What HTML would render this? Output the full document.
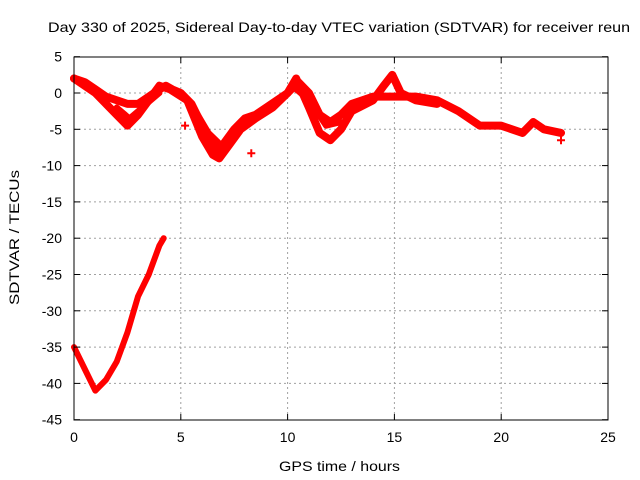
<!DOCTYPE html>
<html><head><meta charset="utf-8"><style>
body{margin:0;background:#fff}
svg{display:block;font-family:"Liberation Sans",sans-serif}
</style></head><body>
<svg id="c" width="640" height="480">
<text x="48" y="32" font-size="14" textLength="582" lengthAdjust="spacingAndGlyphs">Day 330 of 2025, Sidereal Day-to-day VTEC variation (SDTVAR) for receiver reun</text>
<text x="279" y="471" font-size="14" textLength="121" lengthAdjust="spacingAndGlyphs">GPS time / hours</text>
<text transform="translate(19,305) rotate(-90)" font-size="14" textLength="135" lengthAdjust="spacingAndGlyphs">SDTVAR / TECUs</text>
<g id="grid"></g><g id="marks"></g><g id="axes"></g>
</svg>
<script>
const xTicks=[0,5,10,15,20,25];
const yTicks=[5,0,-5,-10,-15,-20,-25,-30,-35,-40,-45];
const trackA=[[0,2],[0.5,1.5],[1,0.5],[1.5,-0.5],[2,-1],[2.5,-1.5],[3,-1.5],[3.5,-0.5],[4,0.5],[4.3,1],[4.6,0.5],[5,0],[5.5,-1.5],[6,-4.5],[6.5,-7],[6.8,-8.5],[7,-7],[7.5,-5],[8,-3.5],[8.5,-3],[9,-2],[9.5,-1],[10,0],[10.5,1.5],[11,0],[11.5,-3],[12,-4],[12.5,-3],[13,-1.5],[14,-0.5],[15,-0.5],[16,-0.5],[17,-1],[18,-2.5],[19,-4.5],[20,-4.5],[21,-5.5],[21.5,-4],[22,-5],[22.8,-5.5]];
const trackB=[[0,2],[1,0],[2,-3],[2.5,-4.5],[3,-3],[3.5,-1],[4,1],[4.5,0.5],[5.3,-1],[6,-6],[6.5,-8.5],[6.8,-9],[7.3,-7],[7.8,-5],[8.5,-3.5],[9.3,-2],[10,0],[10.4,2],[11,-2],[11.5,-5.5],[12,-6.5],[12.5,-5],[13,-2.5],[14,-1],[14.5,1],[14.9,2.5],[15.3,0],[16,-1],[17,-1.5]];
const trackC=[[2,-2],[2.6,-3.5],[3.2,-2],[4,0]];
const trackD=[[5.5,-1.5],[6.3,-5.5],[7,-7.5],[7.5,-6]];
const trackE=[[10.2,1],[11,-1],[11.8,-4.5],[12.5,-4]];
const trackLow=[[0,-35],[0.5,-38],[1,-41],[1.5,-39.5],[2,-37],[2.5,-33],[3,-28],[3.5,-25],[4,-21],[4.2,-20]];
const outliers=[[5.2,-4.5],[8.3,-8.3],[22.8,-6.5]];
const X=v=>74+v*(534/25), Y=v=>93-v*7.26;
const NS='http://www.w3.org/2000/svg';
function mk(t,a,p){const e=document.createElementNS(NS,t);for(const k in a)e.setAttribute(k,a[k]);p.appendChild(e);return e;}
const g=document.getElementById('grid'),m=document.getElementById('marks'),ax=document.getElementById('axes');
xTicks.forEach(t=>{
 if(t>0&&t<25){const l=mk('line',{x1:X(t),x2:X(t),y1:57,y2:420,stroke:'#a0a0a0','stroke-dasharray':'2,3'},g);}
 mk('line',{x1:X(t),x2:X(t),y1:420,y2:414,stroke:'#000'},ax);mk('line',{x1:X(t),x2:X(t),y1:57,y2:63,stroke:'#000'},ax);
 const tx=mk('text',{x:X(t),y:442,'text-anchor':'middle','font-size':'14'},ax);tx.textContent=t;
 
});
yTicks.forEach(t=>{
 if(t<5&&t>-45){const l=mk('line',{x1:74,x2:608,y1:Y(t),y2:Y(t),stroke:'#a0a0a0','stroke-dasharray':'2,3'},g);}
 mk('line',{x1:74,x2:80,y1:Y(t),y2:Y(t),stroke:'#000'},ax);mk('line',{x1:602,x2:608,y1:Y(t),y2:Y(t),stroke:'#000'},ax);
 const tx=mk('text',{x:62,y:Y(t)+5,'text-anchor':'end','font-size':'14'},ax);tx.textContent=t;
 
});
const fr=mk('rect',{x:74,y:57,width:534,height:363,fill:'none',stroke:'#000'},ax);

[[trackA,8],[trackB,8],[trackC,6],[trackD,6],[trackE,6],[trackLow,6]].forEach(([d,w],i)=>{
 const p=mk('polyline',{points:d.map(q=>X(q[0])+','+Y(q[1])).join(' '),fill:'none',stroke:'#ff0000','stroke-width':w,'stroke-linejoin':'round','stroke-linecap':'round'},m);
 
});
outliers.forEach(q=>{
 const p=mk('path',{d:`M${X(q[0])-4},${Y(q[1])}h8M${X(q[0])},${Y(q[1])-4}v8`,stroke:'#ff0000','stroke-width':2},m);
 
});
</script>
</body></html>
